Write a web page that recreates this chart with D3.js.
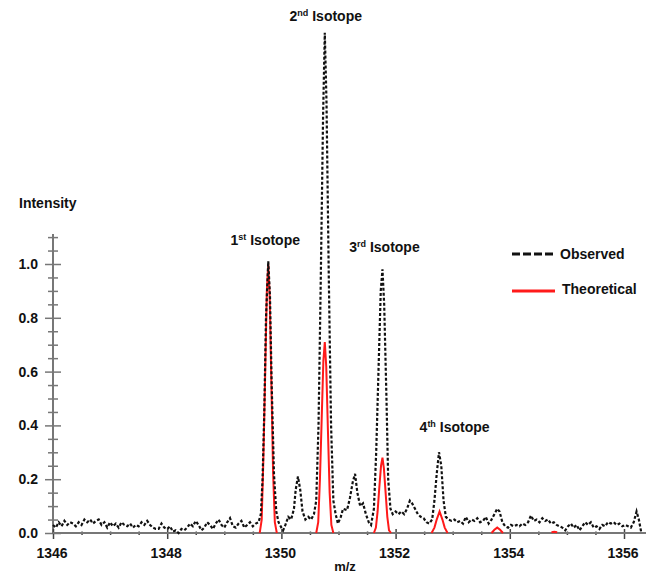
<!DOCTYPE html>
<html>
<head>
<meta charset="utf-8">
<script src="https://cdn.jsdelivr.net/npm/d3@7"></script>
<style>
  body { margin: 0; background: #fff; }
  svg text { font-family: Arial, "Liberation Sans", sans-serif; font-weight: bold; fill: #111; }
</style>
</head>
<body>
<div id="chart"></div>
<script>
// observed spectrum [m/z, relative intensity]
const observed = [
  [1346.00, 0.03], [1346.05, 0.02], [1346.10, 0.04], [1346.15, 0.025], [1346.20, 0.045],
  [1346.25, 0.03], [1346.30, 0.04], [1346.35, 0.035], [1346.40, 0.025], [1346.45, 0.04],
  [1346.50, 0.03], [1346.55, 0.05], [1346.60, 0.04], [1346.65, 0.05], [1346.70, 0.035],
  [1346.75, 0.045], [1346.80, 0.05], [1346.85, 0.03], [1346.90, 0.04], [1346.95, 0.02],
  [1347.00, 0.04], [1347.05, 0.025], [1347.10, 0.035], [1347.15, 0.02], [1347.20, 0.04],
  [1347.25, 0.03], [1347.30, 0.025], [1347.35, 0.035], [1347.40, 0.02], [1347.45, 0.03],
  [1347.50, 0.025], [1347.55, 0.04], [1347.60, 0.03], [1347.65, 0.045], [1347.70, 0.03],
  [1347.75, 0.02], [1347.80, 0.015], [1347.85, 0.015], [1347.90, 0.035], [1347.95, 0.02],
  [1348.00, 0.015], [1348.05, 0.025], [1348.10, 0.005], [1348.15, 0.01], [1348.20, 0.0],
  [1348.25, 0.015], [1348.30, 0.01], [1348.35, 0.02], [1348.40, 0.035], [1348.45, 0.025],
  [1348.50, 0.045], [1348.55, 0.03], [1348.60, 0.01], [1348.65, 0.02], [1348.70, 0.04],
  [1348.75, 0.03], [1348.80, 0.015], [1348.85, 0.035], [1348.90, 0.05], [1348.95, 0.03],
  [1349.00, 0.02], [1349.05, 0.04], [1349.10, 0.055], [1349.15, 0.025], [1349.20, 0.02],
  [1349.25, 0.035], [1349.30, 0.045], [1349.35, 0.02], [1349.40, 0.03], [1349.45, 0.04],
  [1349.50, 0.025], [1349.55, 0.035], [1349.60, 0.04], [1349.64, 0.07], [1349.67, 0.2],
  [1349.70, 0.45], [1349.73, 0.8], [1349.77, 1.01], [1349.80, 0.88], [1349.83, 0.55],
  [1349.87, 0.22], [1349.91, 0.08], [1349.95, 0.04], [1350.00, 0.02], [1350.03, 0.01],
  [1350.07, 0.03], [1350.12, 0.06], [1350.17, 0.05], [1350.22, 0.09], [1350.25, 0.16],
  [1350.29, 0.21], [1350.33, 0.16], [1350.37, 0.08], [1350.42, 0.05], [1350.47, 0.06],
  [1350.52, 0.05], [1350.57, 0.07], [1350.61, 0.12], [1350.65, 0.4], [1350.69, 0.95],
  [1350.73, 1.55], [1350.76, 1.86], [1350.79, 1.6], [1350.83, 0.95], [1350.87, 0.4],
  [1350.91, 0.12], [1350.95, 0.07], [1350.99, 0.035], [1351.04, 0.06], [1351.08, 0.09],
  [1351.15, 0.085], [1351.20, 0.13], [1351.25, 0.19], [1351.29, 0.22], [1351.33, 0.15],
  [1351.38, 0.10], [1351.43, 0.11], [1351.48, 0.07], [1351.53, 0.04], [1351.57, 0.03],
  [1351.62, 0.09], [1351.66, 0.3], [1351.70, 0.6], [1351.74, 0.9], [1351.77, 0.98],
  [1351.80, 0.85], [1351.84, 0.5], [1351.87, 0.2], [1351.91, 0.09], [1351.95, 0.07],
  [1352.00, 0.08], [1352.05, 0.07], [1352.10, 0.08], [1352.15, 0.07], [1352.20, 0.09],
  [1352.25, 0.12], [1352.29, 0.11], [1352.34, 0.09], [1352.39, 0.07], [1352.44, 0.06],
  [1352.49, 0.055], [1352.54, 0.04], [1352.59, 0.035], [1352.64, 0.05], [1352.68, 0.12],
  [1352.72, 0.22], [1352.76, 0.30], [1352.80, 0.25], [1352.84, 0.12], [1352.88, 0.06],
  [1352.93, 0.05], [1352.98, 0.045], [1353.03, 0.05], [1353.08, 0.04], [1353.13, 0.045],
  [1353.18, 0.035], [1353.23, 0.06], [1353.28, 0.04], [1353.33, 0.05], [1353.38, 0.045],
  [1353.43, 0.055], [1353.48, 0.04], [1353.53, 0.045], [1353.58, 0.06], [1353.63, 0.035],
  [1353.68, 0.05], [1353.73, 0.07], [1353.78, 0.09], [1353.82, 0.08], [1353.87, 0.04],
  [1353.92, 0.025], [1353.97, 0.02], [1354.02, 0.03], [1354.07, 0.025], [1354.12, 0.03],
  [1354.17, 0.025], [1354.22, 0.035], [1354.27, 0.03], [1354.32, 0.04], [1354.37, 0.065],
  [1354.42, 0.045], [1354.47, 0.05], [1354.52, 0.04], [1354.57, 0.055], [1354.62, 0.045],
  [1354.67, 0.05], [1354.72, 0.035], [1354.77, 0.04], [1354.82, 0.03], [1354.87, 0.025],
  [1354.92, 0.02], [1354.97, 0.01], [1355.02, 0.025], [1355.07, 0.035], [1355.12, 0.02],
  [1355.17, 0.03], [1355.22, 0.01], [1355.27, 0.025], [1355.32, 0.04], [1355.37, 0.03],
  [1355.42, 0.04], [1355.47, 0.02], [1355.52, 0.025], [1355.57, 0.015], [1355.62, 0.03],
  [1355.67, 0.025], [1355.72, 0.04], [1355.77, 0.035], [1355.82, 0.04], [1355.87, 0.03],
  [1355.92, 0.035], [1355.97, 0.025], [1356.02, 0.03], [1356.07, 0.025], [1356.12, 0.02],
  [1356.17, 0.04], [1356.22, 0.08], [1356.26, 0.05], [1356.30, 0.005]
];

// theoretical isotope pattern, null = gap between peaks
const theoretical = [
  [1349.62, 0], [1349.655, 0.05], [1349.685, 0.28], [1349.715, 0.58], [1349.745, 0.9],
  [1349.77, 1.0], [1349.795, 0.88], [1349.825, 0.55], [1349.855, 0.22], [1349.885, 0.04], [1349.92, 0],
  null,
  [1350.61, 0], [1350.645, 0.04], [1350.675, 0.2], [1350.705, 0.42], [1350.735, 0.64],
  [1350.76, 0.71], [1350.785, 0.62], [1350.815, 0.38], [1350.845, 0.15], [1350.875, 0.03], [1350.91, 0],
  null,
  [1351.62, 0], [1351.655, 0.02], [1351.685, 0.08], [1351.715, 0.17], [1351.745, 0.25],
  [1351.77, 0.28], [1351.795, 0.24], [1351.825, 0.15], [1351.855, 0.06], [1351.885, 0.01], [1351.92, 0],
  null,
  [1352.63, 0], [1352.68, 0.02], [1352.72, 0.05], [1352.77, 0.08], [1352.82, 0.05], [1352.86, 0.02], [1352.91, 0],
  null,
  [1353.68, 0], [1353.73, 0.012], [1353.78, 0.02], [1353.83, 0.012], [1353.88, 0],
  null,
  [1354.73, 0.003], [1354.78, 0.005], [1354.83, 0.003]
];

const isotopePeaks = [1349.77, 1350.76, 1351.77, 1352.77];
const isotopeNums = ["1", "2", "3", "4"];
const isotopeSups = ["st", "nd", "rd", "th"];

const yTickLabels = [0, 0.2, 0.4, 0.6, 0.8, 1.0];
const xTickLabels = [1346, 1348, 1350, 1352, 1354, 1356];
const legendNames = ["Observed", "Theoretical"];

const width = 656, height = 575;

const svg = d3.select("#chart").append("svg")
  .attr("width", width)
  .attr("height", height);

const x = d3.scaleLinear().domain([1346, 1356]).range([53, 624]);
const y = d3.scaleLinear().domain([0, 1]).range([533, 264]);

const axisColor = "#777";

// y axis: line + crossing ticks
const yAxis = svg.append("g")
  .attr("transform", `translate(${x(1346)},0)`)
  .call(d3.axisLeft(y).tickValues(d3.range(0, 1.101, 0.05)).tickFormat("").tickSizeOuter(0));
yAxis.select(".domain").remove();
yAxis.selectAll(".tick line")
  .attr("stroke", axisColor)
  .attr("stroke-width", 1.5)
  .attr("x1", d => Math.abs(d * 5 - Math.round(d * 5)) < 1e-6 ? -8 : -5)
  .attr("x2", d => Math.abs(d * 5 - Math.round(d * 5)) < 1e-6 ? 8 : 5);
svg.append("line")
  .attr("x1", x(1346)).attr("x2", x(1346))
  .attr("y1", y(0)).attr("y2", 234)
  .attr("stroke", axisColor).attr("stroke-width", 2);

svg.append("g").selectAll("text")
  .data(yTickLabels)
  .join("text")
  .attr("x", 38)
  .attr("y", d => y(d) + 5)
  .attr("text-anchor", "end")
  .style("font-size", "14px")
  .text(d3.format(".1f"));

// x axis
const xAxis = svg.append("g")
  .attr("transform", `translate(0,${y(0)})`)
  .call(d3.axisBottom(x).tickValues(d3.range(1346, 1356.01, 0.5)).tickFormat("").tickSizeOuter(0));
xAxis.select(".domain").remove();
xAxis.selectAll(".tick line")
  .attr("stroke", "#444")
  .attr("stroke-width", 1.5)
  .attr("y1", d => d % 2 === 0 ? -4 : -1.5)
  .attr("y2", d => d % 2 === 0 ? 6 : 2);
svg.append("line")
  .attr("x1", x(1346)).attr("x2", 646)
  .attr("y1", y(0)).attr("y2", y(0))
  .attr("stroke", axisColor).attr("stroke-width", 2);

svg.append("g").selectAll("text")
  .data(xTickLabels)
  .join("text")
  .attr("x", d => x(d) - 1)
  .attr("y", 558)
  .attr("text-anchor", "middle")
  .style("font-size", "14px")
  .text(d => d);

// axis titles
svg.append("text")
  .attr("x", 19).attr("y", 208)
  .style("font-size", "14px")
  .text("Intensity");

svg.append("text")
  .attr("x", 345).attr("y", 571)
  .attr("text-anchor", "middle")
  .style("font-size", "13px")
  .text("m/z");

// spectra
const line = d3.line()
  .defined(d => d !== null)
  .x(d => x(d[0]))
  .y(d => y(d[1]));

svg.append("path")
  .datum(theoretical)
  .attr("fill", "none")
  .attr("stroke", "#ff1a1a")
  .attr("stroke-width", 2)
  .attr("d", line);

svg.append("path")
  .datum(observed)
  .attr("fill", "none")
  .attr("stroke", "#111")
  .attr("stroke-width", 2.2)
  .attr("stroke-dasharray", "3,2")
  .attr("d", line);

// isotope labels
const labelPos = [[-3, 245], [1, 21], [2, 252], [15, 432]];
isotopePeaks.forEach((mz, i) => {
  const t = svg.append("text")
    .attr("x", x(mz) + labelPos[i][0])
    .attr("y", labelPos[i][1])
    .attr("text-anchor", "middle")
    .style("font-size", "14px");
  t.append("tspan").text(isotopeNums[i]);
  t.append("tspan").attr("dy", -5).style("font-size", "9px").text(isotopeSups[i]);
  t.append("tspan").attr("dy", 5).text(" Isotope");
});

// legend
const legend = svg.append("g");
legend.append("line")
  .attr("x1", 512).attr("x2", 555)
  .attr("y1", 254).attr("y2", 254)
  .attr("stroke", "#111").attr("stroke-width", 3)
  .attr("stroke-dasharray", "8,3");
legend.append("line")
  .attr("x1", 512).attr("x2", 555)
  .attr("y1", 291).attr("y2", 291)
  .attr("stroke", "#ff1a1a").attr("stroke-width", 3);
legend.selectAll(".lg")
  .data(legendNames)
  .join("text")
  .attr("class", "lg")
  .attr("x", (d, i) => i === 0 ? 560 : 562)
  .attr("y", (d, i) => i === 0 ? 259 : 294)
  .style("font-size", "14px")
  .text(d => d);
</script>
</body>
</html>
